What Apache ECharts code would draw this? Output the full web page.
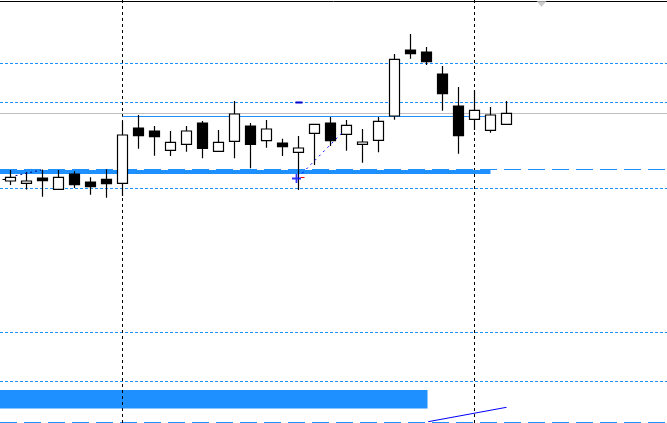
<!DOCTYPE html>
<html>
<head>
<meta charset="utf-8">
<script src="https://cdn.jsdelivr.net/npm/echarts@6/dist/echarts.min.js"></script>
<style>html,body{margin:0;padding:0;background:#fff;}#c{width:667px;height:423px;}</style>
</head>
<body>
<div id="c"></div>
<script>
// Candle data (bar index, OHLC prices)
const opens  = [1.13190,1.13167,1.13220,1.13107,1.13260,1.13180,1.13207,1.13167,1.13720,1.13690,1.13497,1.13557,1.13770,1.13487,1.13587,1.13740,1.13593,1.13570,1.13477,1.13667,1.13770,1.13657,1.13557,1.13597,1.13840,1.14500,1.14480,1.14260,1.13940,1.13807,1.13697,1.13757];
const closes = [1.13227,1.13190,1.13193,1.13227,1.13153,1.13133,1.13163,1.13650,1.13643,1.13633,1.13577,1.13690,1.13517,1.13577,1.13860,1.13557,1.13710,1.13533,1.13520,1.13757,1.13593,1.13747,1.13580,1.13787,1.14407,1.14463,1.14383,1.14063,1.13643,1.13897,1.13850,1.13867];
const lows   = [1.13150,1.13105,1.13033,1.13107,1.13120,1.13053,1.13023,1.13040,1.13513,1.13443,1.13440,1.13483,1.13417,1.13487,1.13417,1.13317,1.13523,1.13440,1.13100,1.13350,1.13540,1.13493,1.13373,1.13477,1.13803,1.14413,1.14350,1.13893,1.13463,1.13700,1.13673,1.13757];
const highs  = [1.13300,1.13280,1.13305,1.13300,1.13287,1.13227,1.13307,1.13790,1.13850,1.13740,1.13690,1.13740,1.13790,1.13700,1.13990,1.13770,1.13800,1.13613,1.13640,1.13757,1.13830,1.13800,1.13710,1.13830,1.14460,1.14660,1.14530,1.14340,1.14130,1.14097,1.13930,1.13990];

// Horizontal levels
const dottedLevels = [1.14365, 1.13975, 1.13115, 1.11675, 1.11185];
const grayLevel = 1.13865;
const longDashLevels = [1.13305, 1.10775];
const topBorderLevel = 1.14985;
// Vertical separators (bar index)
const verticalLines = [7, 29];
// Segments [[x1,y1],[x2,y2]]
const resistanceSeg = [[7, 1.13835], [30.125, 1.13835]];
const bandSeg = [[-0.7, 1.13280], [30, 1.13280]];
const trendSeg = [[26.106, 1.10783], [31, 1.10927]];
const dotSegA = [[18.23, 1.13267], [20.73, 1.13673]];
const dotSegB = [[0.3125, 1.13243], [1.92, 1.13300]];
const smallDash = [[17.81, 1.13975], [18.25, 1.13975]];
const redTick = [[18.125, 1.13225], [18.375, 1.13225]];
const leftTick = [[-0.5, 1.13205], [-0.31, 1.13205]];
const blockArea = [[-0.7, 1.11100], [26.0625, 1.10915]];
const arrowPoint = [17.875, 1.13215];
const shiftMarker = [33.19, 1.14960];

const X_MIN = -0.65625, X_MAX = 41.03125, Y_MIN = 1.1077, Y_MAX = 1.1500;

const candleData = opens.map((o, i) => [i, o, closes[i], lows[i], highs[i]]);

function seg(data, color, width, type, z) {
  return {type: 'line', data: data, symbol: 'none', silent: true, z: z || 3, clip: false,
    lineStyle: {color: color, width: width, type: type || 'solid'}, animation: false};
}
function hline(v, color, width, type, z) {
  return seg([[X_MIN, v], [X_MAX, v]], color, width, type, z);
}
function vline(v, color, width, type, z) {
  return seg([[v, Y_MIN], [v, Y_MAX]], color, width, type, z);
}

const chart = echarts.init(document.getElementById('c'));
chart.setOption({
  animation: false,
  backgroundColor: '#ffffff',
  grid: {left: 0, right: 0, top: 0, bottom: 0},
  xAxis: {type: 'value', min: X_MIN, max: X_MAX, show: false, splitLine: {show: false}},
  yAxis: {type: 'value', min: Y_MIN, max: Y_MAX, show: false, splitLine: {show: false}, scale: true},
  series: [
    {
      type: 'candlestick',
      data: candleData,
      encode: {x: 0, y: [1, 2, 3, 4]},
      barWidth: 10,
      z: 5,
      itemStyle: {color: '#ffffff', color0: '#000000', borderColor: '#000000', borderColor0: '#000000', borderWidth: 1.2},
      markArea: {
        silent: true,
        itemStyle: {color: '#1E90FF', opacity: 1},
        data: [[{xAxis: blockArea[0][0], yAxis: blockArea[0][1]}, {xAxis: blockArea[1][0], yAxis: blockArea[1][1]}]]
      }
    },
    ...dottedLevels.map(v => hline(v, '#1E90FF', 1, [3, 2], 2)),
    hline(grayLevel, '#C0C0C0', 1, 'solid', 1),
    ...longDashLevels.map(v => hline(v, '#1E90FF', 1, [17, 7], 2)),
    hline(topBorderLevel, '#000000', 1, 'solid', 2),
    ...verticalLines.map(v => vline(v, '#000000', 1, [3, 3], 2)),
    seg(bandSeg, '#1E90FF', 4, 'solid', 2),
    seg(resistanceSeg, '#1E90FF', 1, 'solid', 3),
    seg(trendSeg, '#0000FF', 1, 'solid', 3),
    seg(dotSegA, '#0000FF', 1, [2, 4], 6),
    seg(dotSegB, '#000080', 1, [2, 3], 6),
    seg(smallDash, '#0000CD', 2, 'solid', 6),
    seg(redTick, '#FF0000', 1, 'solid', 6),
    seg(leftTick, '#000000', 1, 'solid', 6),
    {
      type: 'scatter', data: [arrowPoint], z: 7, silent: true,
      symbol: 'path://M4,0 L6,0 L6,4 L10,4 L10,6 L6,6 L6,10 L4,10 L4,6 L0,6 L0,4 L4,4 Z',
      symbolSize: 9, itemStyle: {color: '#0000FF'}
    },
    {
      type: 'scatter', data: [shiftMarker], z: 7, silent: true,
      symbol: 'triangle', symbolRotate: 180, symbolSize: [10, 6], itemStyle: {color: '#C0C0C0'}
    }
  ]
});
</script>
</body>
</html>
